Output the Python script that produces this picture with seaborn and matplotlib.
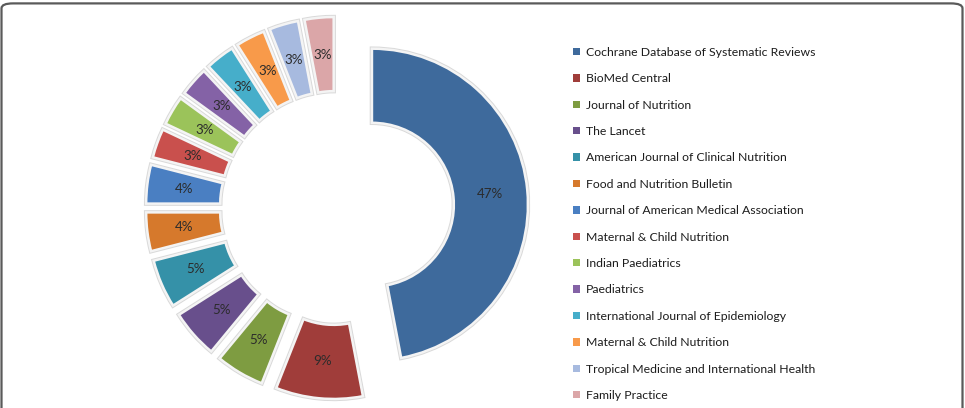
import numpy as np
import pandas as pd
import seaborn as sns
import matplotlib.pyplot as plt
import matplotlib.patheffects as pe
from matplotlib.patches import FancyBboxPatch

sns.set_theme(style="white")
plt.rcParams['font.family'] = ['Lato', 'DejaVu Sans']

journals = ['Cochrane Database of Systematic Reviews', 'BioMed Central', 'Journal of Nutrition',
            'The Lancet', 'American Journal of Clinical Nutrition', 'Food and Nutrition Bulletin',
            'Journal of American Medical Association', 'Maternal & Child Nutrition',
            'Indian Paediatrics', 'Paediatrics', 'International Journal of Epidemiology',
            'Maternal & Child Nutrition', 'Tropical Medicine and International Health',
            'Family Practice']
share = [47, 9, 5, 5, 5, 4, 4, 3, 3, 3, 3, 3, 3, 3]
colors = ['#3E6A9C', '#A03D3A', '#7E9C41', '#684F8C', '#3591A8', '#D6792C', '#4A7FC2',
          '#C9504D', '#9BC35A', '#8462A6', '#46AECA', '#F89A4A', '#A7BADF', '#DBA6A8']

df = pd.DataFrame({'journal': journals, 'share': share, 'color': colors})

fig = plt.figure(figsize=(9.65, 4.08), dpi=100)

# outer rounded frame
frame = FancyBboxPatch((1.5 / 965, -0.05), 961 / 965, (408 - 3 + 20) / 408,
                       boxstyle="round,pad=0,rounding_size=0.012", transform=fig.transFigure,
                       fill=False, edgecolor='#5a5a5a', linewidth=1.6)
fig.patches.append(frame)

# donut axes, centre at (337, 208) px, radius 156 px
L = 1.3
side = 2 * L * 156
ax = fig.add_axes([(337 - side / 2) / 965, (200 - side / 2) / 408, side / 965, side / 408])

wedges, texts, autotexts = ax.pie(
    df['share'], colors=df['color'], startangle=90, counterclock=False,
    explode=[0.225] * len(df), radius=1.0, pctdistance=0.76,
    autopct=lambda p: f'{p:.0f}%',
    wedgeprops=dict(width=0.475, edgecolor='#f4f4f4', linewidth=1.8),
    textprops=dict(fontsize=9.6, color='#2b2b2b'))
for w in wedges:
    w.set_path_effects([pe.Stroke(linewidth=3.2, foreground='#d9d9d9'), pe.Normal()])
    w.set_clip_on(False)
ax.set_xlim(-L, L)
ax.set_ylim(-L, L)
ax.set_aspect('equal')
ax.axis('off')

leg = fig.legend(wedges, df['journal'], loc='upper left', bbox_to_anchor=(568 / 965, 1 - 42 / 408),
                 frameon=False, fontsize=8.8, handlelength=0.55, handleheight=0.55,
                 handletextpad=0.5, labelspacing=1.26, borderaxespad=0)
for h in leg.legend_handles:
    h.set_path_effects([])
    h.set_linewidth(0)
for t in leg.get_texts():
    t.set_color('#1c1c1c')

fig.savefig('out.png', dpi=100)
